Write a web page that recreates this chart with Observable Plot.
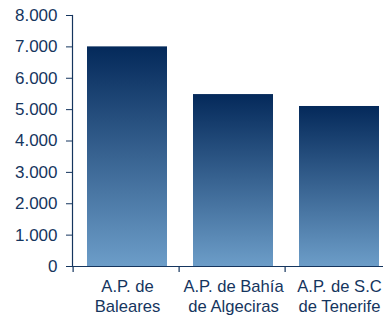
<!DOCTYPE html>
<html><head><meta charset="utf-8">
<script src="https://cdn.jsdelivr.net/npm/d3@7"></script>
<script src="https://cdn.jsdelivr.net/npm/@observablehq/plot@0.6"></script>
<style>
body{margin:0;background:#fff;}
svg{font-family:"Liberation Sans",Arial,sans-serif;}
</style></head><body><div id="chart"></div>
<script>
const categories = ["A.P. de\nBaleares", "A.P. de Bahía\nde Algeciras", "A.P. de S.C\nde Tenerife"];
const values = [7000, 5480, 5100];
const yTicks = [0, 1000, 2000, 3000, 4000, 5000, 6000, 7000, 8000];

const data = categories.map((c, i) => ({name: c, value: values[i]}));
const fmt = d3.formatLocale({thousands: ".", grouping: [3], decimal: ",", currency: ["", ""]}).format(",");
const ink = "#15355e";

const plot = Plot.plot({
  width: 383, height: 315,
  marginLeft: 72, marginRight: 0, marginTop: 15, marginBottom: 49,
  style: {color: ink, background: "#fff", overflow: "visible"},
  x: {domain: categories, range: [72, 395], paddingInner: 0.243, paddingOuter: 0.131, align: 0.5},
  y: {domain: [0, 8000]},
  marks: [
    Plot.barY(data, {x: "name", y: "value", fill: "url(#barGrad)"}),
    Plot.frame({anchor: "left", stroke: ink, strokeWidth: 1.2}),
    Plot.ruleY([0], {stroke: ink, strokeWidth: 1.2}),
    Plot.axisY({ticks: yTicks, tickFormat: fmt, tickSize: 6, tickPadding: 9, fontSize: 17, label: null, stroke: ink, fill: ink}),
    Plot.axisX({tickSize: 0, tickPadding: 11, fontSize: 16.6, lineHeight: 1.22, label: null, fill: ink})
  ]
});

const svg = d3.select(plot);
const defs = svg.insert("defs", ":first-child");
const g = defs.append("linearGradient").attr("id", "barGrad").attr("x1", 0).attr("y1", 0).attr("x2", 0).attr("y2", 1);
g.append("stop").attr("offset", "0%").attr("stop-color", "#04295a");
g.append("stop").attr("offset", "100%").attr("stop-color", "#6c9dc8");

// category boundary ticks derived from the band scale
const xs = plot.scale("x");
const y0 = plot.scale("y").apply(0);
const outer = xs.step * 0.131;
svg.append("g").selectAll("line").data(categories).join("line")
  .attr("x1", d => xs.apply(d) - outer).attr("x2", d => xs.apply(d) - outer)
  .attr("y1", y0).attr("y2", y0 + 6)
  .attr("stroke", ink).attr("stroke-width", 1.2);

document.getElementById("chart").appendChild(plot);
</script></body></html>
